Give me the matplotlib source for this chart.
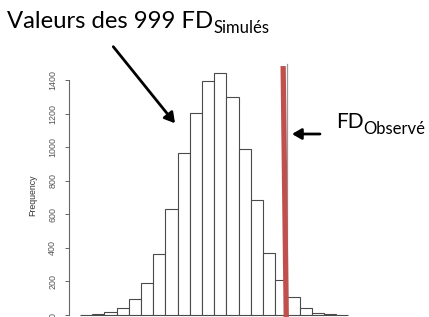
import numpy as np
import matplotlib
matplotlib.use("Agg")
import matplotlib.pyplot as plt

# histogram of the 999 simulated FD values (x axis is not shown in the picture)
bin_edges = np.arange(0, 23)  # 22 bins, arbitrary units
counts = [0, 4, 20, 42, 96, 190, 361, 633, 967, 1205, 1394, 1443,
          1298, 991, 687, 369, 207, 105, 42, 12, 6, 1]
fd_observed = 17.0
y_ticks = [0, 200, 400, 600, 800, 1000, 1200, 1400]

W, H = 429, 317
fig = plt.figure(figsize=(W / 100, H / 100), dpi=100)

# axes placed in pixels: y=0 sits at 315 px from top, 1400 at 80 px
px_per_unit = 235 / 1400
ylo, yhi = -100, 1500
bottom_px = 2 + ylo * px_per_unit
height_px = (yhi - ylo) * px_per_unit
bw_px = 12.2
xlo = -11 / bw_px
xhi = xlo + 331 / bw_px
ax = fig.add_axes([69 / W, bottom_px / H, 331 / W, height_px / H])
ax.set_xlim(xlo, xhi)
ax.set_ylim(ylo, yhi)

ax.bar(bin_edges[:-1], counts, width=1, align="edge", color="white",
       edgecolor="#4a4a4a", linewidth=0.8)

# R abline at the observed value, red stroke drawn over it
ax.plot([fd_observed, fd_observed], [ylo, 1495], color="#9a9a9a", lw=0.9)
ax.plot([fd_observed - 0.35, fd_observed - 0.08], [1483, ylo],
        color="#C0504D", lw=3.8, solid_capstyle="butt")

for s in ["top", "right", "bottom"]:
    ax.spines[s].set_visible(False)
ax.spines["left"].set_bounds(0, 1400)
ax.spines["left"].set_color("#666666")
ax.spines["left"].set_linewidth(0.8)
ax.set_xticks([])
ax.set_yticks(y_ticks)
ax.set_yticklabels([str(t) for t in y_ticks], rotation=90, va="center",
                   fontsize=6.4, family="Liberation Sans", color="#555555")
ax.tick_params(axis="y", length=3, width=0.7, color="#666666", pad=5.5)

fig.text(33 / W, 1 - 195 / H, "Frequency", rotation=90, ha="center",
         va="center", fontsize=6.3, family="Liberation Sans", color="#333333")

# annotations
title = fig.text(7 / W, 1 - 28 / H, "Valeurs des 999 FD", fontsize=17.2,
                 family="Lato", va="baseline", color="black")
obs = fig.text(336 / W, 1 - 128 / H, "FD", fontsize=15,
               family="Lato", va="baseline", color="black")
fig.canvas.draw()
r = fig.canvas.get_renderer()
tb = title.get_window_extent(r)
fig.text(tb.x1 / W, 1 - 33 / H, "Simulés", fontsize=12, family="Lato",
         va="baseline")
ob = obs.get_window_extent(r)
fig.text(ob.x1 / W, 1 - 133.5 / H, "Observé", fontsize=12, family="Lato",
         va="baseline")

fig.add_artist(matplotlib.patches.FancyArrowPatch(
    (113.3, H - 46.7), (175, H - 123.3), transform=None,
    arrowstyle="-|>,head_length=6,head_width=3.5", lw=2, color="black",
    shrinkA=0, shrinkB=0))
fig.add_artist(matplotlib.patches.FancyArrowPatch(
    (320, H - 134), (292, H - 134), transform=None,
    arrowstyle="-|>,head_length=5.5,head_width=3.2", lw=2, color="black",
    shrinkA=0, shrinkB=0))

fig.savefig("out.png", dpi=100)
